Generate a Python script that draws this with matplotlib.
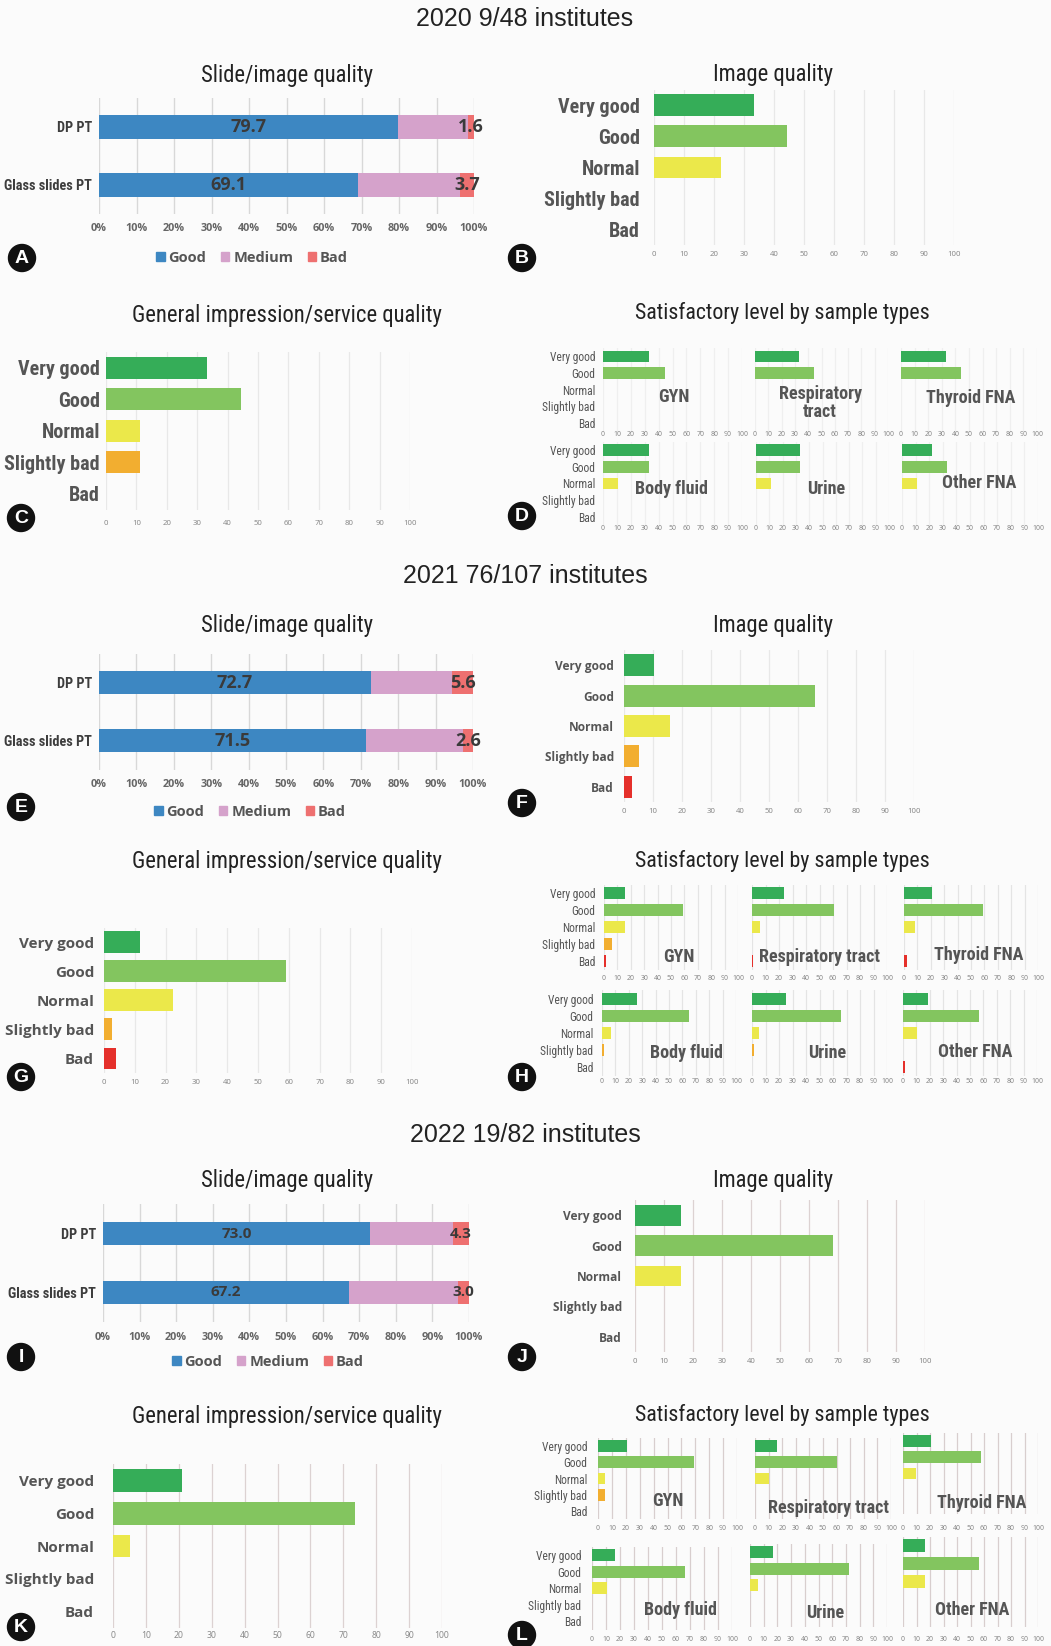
import numpy as np
import matplotlib.pyplot as plt
from matplotlib import font_manager
from matplotlib.patches import Patch, Circle

W, H = 1051, 1646

# ---------------- data ----------------
headers = ['2020 9/48 institutes', '2021 76/107 institutes', '2022 19/82 institutes']
levels = ['Very good', 'Good', 'Normal', 'Slightly bad', 'Bad']
stack_rows = ['DP PT', 'Glass slides PT']
stack_names = ['Good', 'Medium', 'Bad']
sample_types = ['GYN', 'Respiratory tract', 'Thyroid FNA', 'Body fluid', 'Urine', 'Other FNA']

# 2020
good_2020 = [79.7, 69.1]
bad_2020 = [1.6, 3.7]
image_2020 = [33.3, 44.4, 22.2, 0, 0]
general_2020 = [33.3, 44.4, 11.1, 11.1, 0]
samples_2020 = [[33.3, 44.4, 0, 0, 0],
                [33.3, 44.4, 0, 0, 0],
                [33.3, 44.4, 0, 0, 0],
                [33.3, 33.3, 11.1, 0, 0],
                [33.3, 33.3, 11.1, 0, 0],
                [22.2, 33.3, 11.1, 0, 0]]

# 2021
good_2021 = [72.7, 71.5]
bad_2021 = [5.6, 2.6]
image_2021 = [10.5, 65.8, 15.8, 5.3, 2.6]
general_2021 = [11.8, 59.2, 22.4, 2.6, 3.9]
samples_2021 = [[15.6, 59.0, 15.6, 6.2, 1.2],
                [23.7, 61.0, 6.2, 0, 1.0],
                [20.6, 59.2, 8.0, 0, 2.5],
                [26.4, 65.0, 6.7, 1.2, 0],
                [25.2, 66.0, 5.2, 1.2, 0],
                [18.9, 56.7, 10.4, 0, 1.7]]

# 2022
good_2022 = [73.0, 67.2]
bad_2022 = [4.3, 3.0]
image_2022 = [15.8, 68.4, 15.8, 0, 0]
general_2022 = [21.1, 73.7, 5.3, 0, 0]
samples_2022 = [[20.7, 69.0, 4.8, 4.8, 0],
                [16.2, 60.3, 10.3, 0, 0],
                [20.4, 57.7, 9.8, 0, 0],
                [16.6, 66.6, 10.9, 0, 0],
                [16.5, 72.0, 5.6, 0, 0],
                [16.0, 56.0, 16.0, 0, 0]]

level_colors = ['#35ad58', '#83c55f', '#ebe84a', '#f2ae30', '#e5302b']
stack_colors = ['#3d87c2', '#d5a2cb', '#ee7070']

# ---------------- fonts ----------------
ttf = font_manager.fontManager.ttflist


def weight_of(f):
    w = f.weight
    if isinstance(w, str):
        w = font_manager.weight_dict.get(w, 400)
    return w


def find_family(cands, bold=False):
    for name, stretch in cands:
        for f in ttf:
            if f.name != name:
                continue
            if stretch is not None and f.stretch != stretch:
                continue
            if bold and weight_of(f) < 600:
                continue
            return name, f.stretch
    return None


narrow_pick = find_family([('Liberation Sans Narrow', None), ('Roboto Condensed', None),
                           ('Open Sans Condensed', None), ('Noto Sans Condensed', None),
                           ('DejaVu Sans Condensed', None),
                           ('Noto Sans', 'condensed'), ('Noto Sans', 'semi-condensed'),
                           ('Open Sans', 'condensed'), ('Open Sans', 'semi-condensed'),
                           ('Roboto', 'condensed'), ('DejaVu Sans', 'condensed')])
if narrow_pick:
    NARROW = dict(fontfamily=narrow_pick[0], fontstretch=narrow_pick[1])
    NS = 1.0
else:
    NARROW = dict(fontfamily='Liberation Sans')
    NS = 0.84

bold_pick = find_family([('Noto Sans', 'normal'), ('Open Sans', 'normal'), ('Lato', 'normal'),
                         ('Roboto', 'normal'), ('Liberation Sans', 'normal')], bold=True)
BOLD = bold_pick[0] if bold_pick else 'DejaVu Sans'


def nfont(size, weight='normal', color='#555555'):
    d = dict(NARROW)
    d.update(fontsize=size * NS, fontweight=weight, color=color)
    return d


fig = plt.figure(figsize=(W / 100, H / 100), dpi=100)
fig.patch.set_facecolor('#fbfbfb')

over = fig.add_axes([0, 0, 1, 1], zorder=10)
over.set_xlim(0, W)
over.set_ylim(H, 0)
over.axis('off')


def px_axes(x0, x1, top, bottom):
    ax = fig.add_axes([x0 / W, 1 - bottom / H, (x1 - x0) / W, (bottom - top) / H])
    ax.set_facecolor('none')
    for s in ax.spines.values():
        s.set_visible(False)
    return ax


def xpad(tick_y, bottom, size):
    return max(0.0, (tick_y - bottom) / 1.389 - 0.6 * size)


def title(x, y, s, size=16.3):
    over.text(x, y, s, ha='center', va='center', **nfont(size, color='#222222'))


def header(y, s):
    over.text(525, y, s, ha='center', va='center', fontfamily='Liberation Sans',
              fontsize=18, color='#222222')


def letter(x, y, s):
    over.add_patch(Circle((x, y), 13.5, color='#111111'))
    over.text(x, y + 0.5, s, ha='center', va='center', color='white', fontweight='bold',
              fontfamily='Liberation Sans', fontsize=14)


def stacked_panel(box, tick_y, good, bad, val_size, legend_xy, grid='#d8d8d8'):
    x0, x1, top, bottom = box
    ax = px_axes(x0, x1, top, bottom)
    good = np.array(good)
    bad = np.array(bad)
    medium = 100 - good - bad
    y = np.arange(len(stack_rows))
    ax.barh(y, good, height=0.4, color=stack_colors[0])
    ax.barh(y, medium, left=good, height=0.4, color=stack_colors[1])
    ax.barh(y, bad, left=good + medium, height=0.4, color=stack_colors[2])
    for i in y:
        ax.text(good[i] / 2, i, f'{good[i]:.1f}', ha='center', va='center', fontfamily=BOLD,
                fontweight='bold', fontsize=val_size, color='#3a3a3a')
        ax.text(100 - bad[i] / 2, i, f'{bad[i]:.1f}', ha='center', va='center', fontfamily=BOLD,
                fontweight='bold', fontsize=val_size, color='#3a3a3a')
    ax.set_xlim(0, 100)
    ax.set_ylim(1.5, -0.5)
    ticks = np.arange(0, 101, 10)
    ax.set_xticks(ticks, [f'{t}%' for t in ticks], fontfamily=BOLD, fontweight='bold',
                  fontsize=7.8, color='#666666')
    ax.set_yticks(y, stack_rows, **nfont(10.3, weight='bold', color='#3d3d3d'))
    ax.tick_params(length=0)
    ax.tick_params(axis='x', pad=xpad(tick_y, bottom, 8))
    ax.tick_params(axis='y', pad=5)
    ax.grid(axis='x', color=grid, lw=1)
    ax.set_axisbelow(True)
    handles = [Patch(color=c) for c in stack_colors]
    leg = ax.legend(handles, stack_names, loc='center',
                    bbox_to_anchor=(legend_xy[0] / W, 1 - legend_xy[1] / H),
                    bbox_transform=fig.transFigure, ncol=3, frameon=False,
                    handlelength=0.6, handleheight=0.6, handletextpad=0.25, columnspacing=1.0,
                    prop=dict(family=BOLD, weight='bold', size=10.5))
    for t in leg.get_texts():
        t.set_color('#555555')
    return ax


def level_panel(box, tick_y, vals, ylab_font, ylab_pad, tick_size=5.6, grid='#e8e8e8',
                zero='#ddd0d0', bar_h=0.69, show_ylab=True):
    x0, x1, top, bottom = box
    ax = px_axes(x0, x1, top, bottom)
    y = np.arange(len(levels))
    ax.barh(y, vals, height=bar_h, color=level_colors)
    ax.set_xlim(0, 100)
    ax.set_ylim(len(levels) - 0.5, -0.5)
    ax.set_xticks(np.arange(0, 101, 10))
    for lab in ax.get_xticklabels():
        lab.set_fontfamily('Noto Sans')
    ax.grid(axis='x', color=grid, lw=0.9)
    ax.set_axisbelow(True)
    ax.axvline(0, color=zero, lw=1.1, zorder=0.5)
    ax.tick_params(length=0, labelsize=tick_size, labelcolor='#8a8a8a')
    ax.tick_params(axis='x', pad=xpad(tick_y, bottom, tick_size))
    if show_ylab:
        ax.set_yticks(y, levels, **ylab_font)
        ax.tick_params(axis='y', pad=ylab_pad / 1.389)
    else:
        ax.set_yticks([])
    return ax


def sample_grid(boxes, tick_ys, data, name_pos, ylab_pad, grid, zero, wrap=False, bar_h=0.7):
    small_font = nfont(8.3)
    for k, (box, vals, (nx, ny)) in enumerate(zip(boxes, data, name_pos)):
        ax = level_panel(box, tick_ys[k // 3], vals, small_font, ylab_pad, tick_size=5,
                         grid=grid, zero=zero, bar_h=bar_h, show_ylab=(k % 3 == 0))
        name = sample_types[k]
        if wrap and name == 'Respiratory tract':
            name = 'Respiratory\ntract'
        ax.text(nx, ny, name, transform=ax.transAxes, ha='center', va='center',
                linespacing=1.0, **nfont(13, weight='bold'))


big_narrow = nfont(14.5, weight='bold')
small_bold = dict(fontfamily=BOLD, fontweight='bold', fontsize=8.6, color='#555555')
mid_bold = dict(fontfamily=BOLD, fontweight='bold', fontsize=11.0, color='#555555')

# ---------------- 2020 ----------------
header(19, headers[0])
title(287, 75, 'Slide/image quality')
stacked_panel((99, 474, 98, 214), 230, good_2020, bad_2020, 13, (252, 258))
title(773, 74, 'Image quality')
level_panel((654, 954, 89.5, 245), 256, image_2020, big_narrow, 14)
title(287, 315, 'General impression/service quality')
level_panel((106, 410, 352, 509.5), 525, general_2020, big_narrow, 6)
title(782, 313, 'Satisfactory level by sample types', size=15.8)
sample_grid([(603, 742, 348, 431.5), (755, 888, 348, 431.5), (901, 1037, 348, 431.5),
             (603, 742, 441.6, 525.4), (756, 889, 441.6, 525.4), (902, 1038, 441.6, 525.4)],
            [433, 527], samples_2020,
            [(0.51, 0.41), (0.49, 0.34), (0.51, 0.40), (0.49, 0.44), (0.53, 0.44), (0.57, 0.50)],
            8, '#efefef', '#e0e0e0', wrap=True)
letter(22, 258, 'A')
letter(522, 258, 'B')
letter(21, 518, 'C')
letter(522, 516, 'D')

# ---------------- 2021 ----------------
header(576, headers[1])
title(287, 625, 'Slide/image quality')
stacked_panel((99, 473, 653.5, 769.5), 786, good_2021, bad_2021, 13, (250, 812))
title(773, 625, 'Image quality')
level_panel((624, 914, 650, 802), 813, image_2021, small_bold, 10, bar_h=0.72)
title(287, 861, 'General impression/service quality')
level_panel((104, 412, 927.5, 1073), 1084, general_2021, mid_bold, 10, bar_h=0.75)
title(782, 861, 'Satisfactory level by sample types', size=15.8)
sample_grid([(604, 738, 884.5, 970), (752, 887, 884.5, 970), (904, 1038, 884.5, 970),
             (602, 736, 990, 1076), (752, 887, 990, 1076), (903, 1037, 990, 1076)],
            [979, 1082], samples_2021,
            [(0.56, 0.15), (0.50, 0.15), (0.56, 0.18), (0.63, 0.27), (0.56, 0.27), (0.54, 0.28)],
            9, '#e4e4e4', '#d8d8d8')
letter(21, 807, 'E')
letter(522, 803, 'F')
letter(21, 1077, 'G')
letter(522, 1077, 'H')

# ---------------- 2022 ----------------
header(1135, headers[2])
title(287, 1180, 'Slide/image quality')
stacked_panel((103, 469, 1204, 1322), 1339, good_2022, bad_2022, 11, (268, 1362))
title(773, 1180, 'Image quality')
level_panel((635, 925, 1200, 1352), 1363, image_2022, small_bold, 13,
            grid='#dcd2d2', zero='#d0c4c4')
title(287, 1417, 'General impression/service quality')
level_panel((113, 442, 1464, 1628), 1636, general_2022, mid_bold, 19, tick_size=6.2,
            grid='#dcd2d2', zero='#d0c4c4', bar_h=0.7)
title(782, 1415, 'Satisfactory level by sample types', size=15.8)
sample_grid([(598, 737, 1438, 1519), (755, 891, 1438, 1519), (903, 1038, 1433, 1514),
             (592, 732, 1547, 1629.5), (750, 887, 1544, 1626.5), (903, 1038, 1536.5, 1626.5)],
            [1529, 1640], samples_2022,
            [(0.50, 0.22), (0.54, 0.14), (0.585, 0.14), (0.63, 0.24), (0.55, 0.16), (0.51, 0.18)],
            11, '#d8cece', '#ccc0c0', bar_h=0.74)
letter(21, 1357, 'I')
letter(522, 1357, 'J')
letter(21, 1627, 'K')
letter(522, 1635, 'L')

fig.savefig('out.png', dpi=100, facecolor=fig.get_facecolor())
